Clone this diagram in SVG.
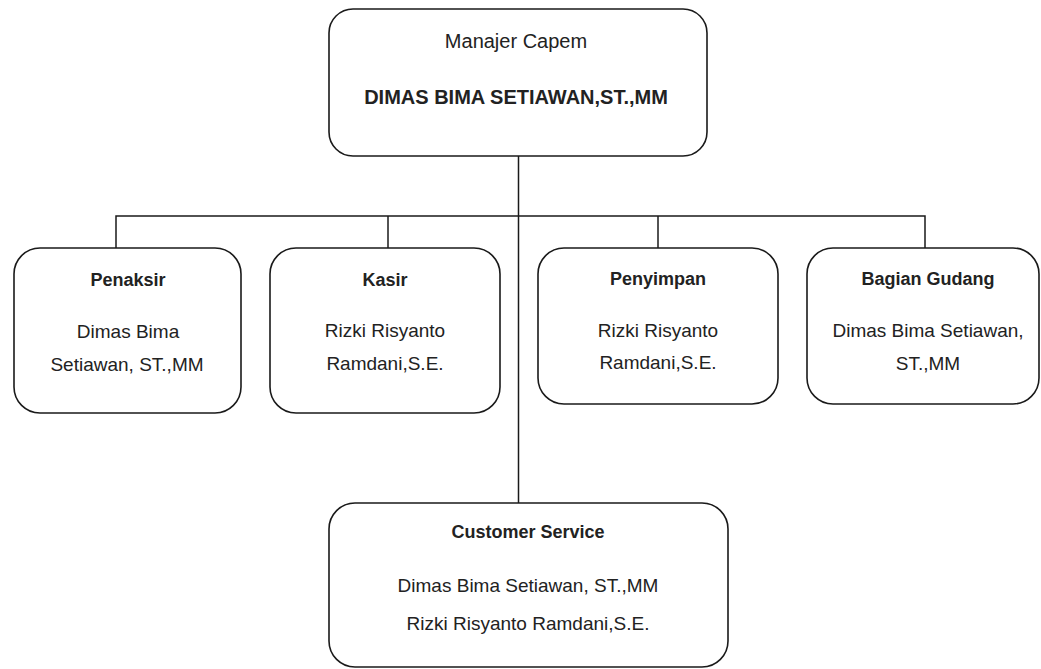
<svg xmlns="http://www.w3.org/2000/svg" width="1041" height="669" viewBox="0 0 1041 669">
<style>
.box{fill:#fff;stroke:#1a1a1a;stroke-width:1.6}
.ln{fill:none;stroke:#1a1a1a;stroke-width:1.5}
text{font-family:"Liberation Sans",Arial,sans-serif;fill:#222;text-anchor:middle}
.t{font-size:19px}
.b{font-size:18px;font-weight:bold}
.top{font-size:20px}
.topb{font-size:20px;font-weight:bold}
</style>
<rect width="1041" height="669" fill="#fff"/>
<g id="connectors">
<path class="ln" d="M518.5 156 V503"/>
<path class="ln" d="M116 248 V216 H925 V248"/>
<path class="ln" d="M388 216 V248"/>
<path class="ln" d="M658 216 V248"/>
</g>
<g id="manajer">
<rect class="box" x="329" y="9" width="378" height="147" rx="24"/>
<text class="top" x="516" y="48">Manajer Capem</text>
<text class="topb" x="516" y="104">DIMAS BIMA SETIAWAN,ST.,MM</text>
</g>
<g id="penaksir">
<rect class="box" x="14" y="248" width="227" height="165" rx="26"/>
<text class="b" x="128" y="286">Penaksir</text>
<text class="t" x="128" y="338">Dimas Bima</text>
<text class="t" x="127" y="371">Setiawan, ST.,MM</text>
</g>
<g id="kasir">
<rect class="box" x="270" y="248" width="230" height="165" rx="26"/>
<text class="b" x="385" y="286">Kasir</text>
<text class="t" x="385" y="337">Rizki Risyanto</text>
<text class="t" x="385" y="370">Ramdani,S.E.</text>
</g>
<g id="penyimpan">
<rect class="box" x="538" y="248" width="240" height="156" rx="26"/>
<text class="b" x="658" y="285">Penyimpan</text>
<text class="t" x="658" y="337">Rizki Risyanto</text>
<text class="t" x="658" y="369">Ramdani,S.E.</text>
</g>
<g id="gudang">
<rect class="box" x="807" y="248" width="232" height="156" rx="26"/>
<text class="b" x="928" y="285">Bagian Gudang</text>
<text class="t" x="928" y="337">Dimas Bima Setiawan,</text>
<text class="t" x="928" y="370">ST.,MM</text>
</g>
<g id="cs">
<rect class="box" x="329" y="503" width="399" height="164" rx="26"/>
<text class="b" x="528" y="538">Customer Service</text>
<text class="t" x="528" y="592">Dimas Bima Setiawan, ST.,MM</text>
<text class="t" x="528" y="630">Rizki Risyanto Ramdani,S.E.</text>
</g>
</svg>
